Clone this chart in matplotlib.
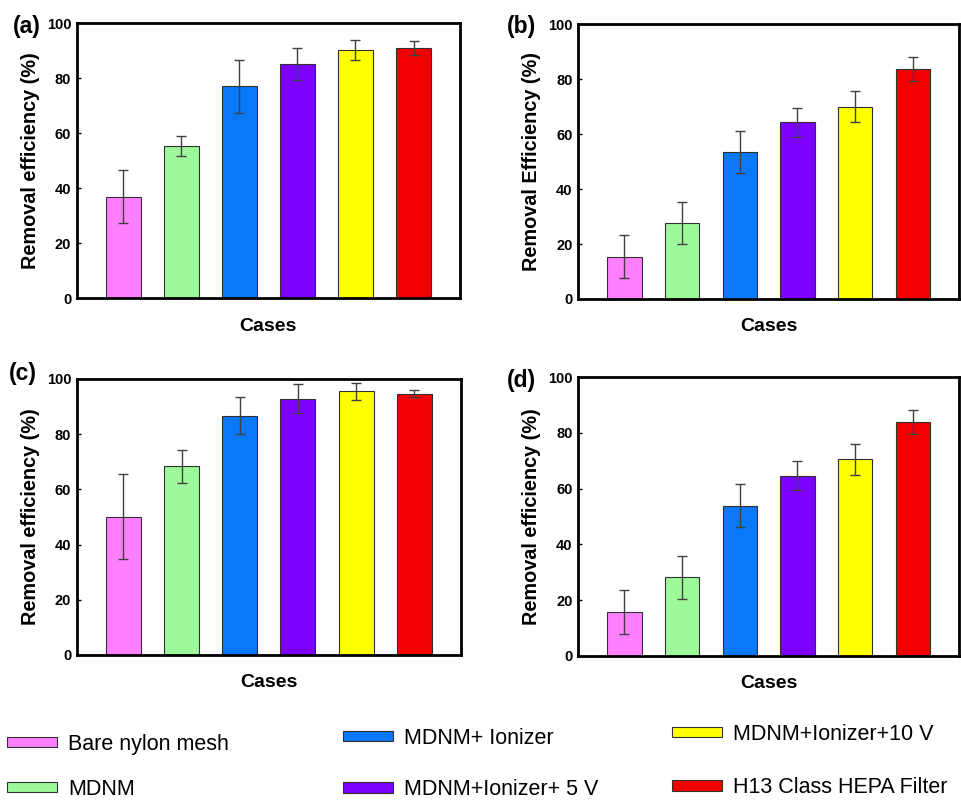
import matplotlib
matplotlib.use("Agg")
import matplotlib.pyplot as plt
import numpy as np

plt.rcParams["font.family"] = ["Liberation Sans", "DejaVu Sans"]

# cases / legend labels
cases = ["Bare nylon mesh", "MDNM", "MDNM+ Ionizer",
         "MDNM+Ionizer+ 5 V", "MDNM+Ionizer+10 V", "H13 Class HEPA Filter"]
colors = ["#FF80FF", "#9EF99A", "#0A78FA", "#7D00FF", "#FFFF00", "#F20000"]

# removal efficiency (%) and error, per panel
eff_a = [37.0, 55.4, 77.1, 85.1, 90.2, 91.1]
err_a = [9.7, 3.6, 9.7, 5.8, 3.7, 2.6]
eff_b = [15.4, 27.8, 53.6, 64.3, 70.0, 83.7]
err_b = [7.9, 7.6, 7.7, 5.3, 5.7, 4.4]
eff_c = [50.1, 68.4, 86.7, 92.9, 95.5, 94.7]
err_c = [15.3, 6.0, 6.8, 5.2, 3.0, 1.3]
eff_d = [15.7, 28.1, 53.9, 64.7, 70.5, 83.8]
err_d = [7.9, 7.7, 7.8, 5.3, 5.6, 4.3]

panel_tags = ["(a)", "(b)", "(c)", "(d)"]
ylabels = ["Removal efficiency (%)", "Removal Efficiency (%)",
           "Removal efficiency (%)", "Removal efficiency (%)"]

W, H = 961, 800
fig = plt.figure(figsize=(W / 100, H / 100), dpi=100)


def px_axes(left, top, right, bottom):
    return fig.add_axes([left / W, 1 - bottom / H, (right - left) / W, (bottom - top) / H])


axes = [
    px_axes(76.7, 23.3, 460, 298.3),
    px_axes(578.3, 24.3, 959, 299),
    px_axes(76.7, 379, 461, 655),
    px_axes(578.3, 377.3, 959, 655.7),
]
tag_pos = [(13, 27), (507, 26), (9, 373), (507, 380)]

x = np.arange(1, len(cases) + 1)
bar_sets = []
for ax, eff, err, ylab, tag, tp in zip(
        axes, [eff_a, eff_b, eff_c, eff_d], [err_a, err_b, err_c, err_d],
        ylabels, panel_tags, tag_pos):
    bars = ax.bar(x, eff, width=0.6, color=colors, edgecolor="#303030",
                  linewidth=0.8, zorder=2)
    ax.errorbar(x, eff, yerr=err, fmt="none", ecolor="#404040",
                elinewidth=1.0, capsize=3.6, capthick=1.0, zorder=3)
    bar_sets.append(bars)
    ax.set_xlim(0.2, 6.8)
    ax.set_ylim(0, 100)
    ax.set_yticks([0, 20, 40, 60, 80, 100])
    ax.set_xticks([])
    for lab in ax.get_yticklabels():
        lab.set_fontweight("bold")
    ax.tick_params(axis="y", direction="in", length=3, width=1,
                   labelsize=10.5, pad=4)
    for sp in ax.spines.values():
        sp.set_linewidth(2)
    ax.set_ylabel(ylab, fontsize=14.3, fontweight="bold", labelpad=5)
    ax.set_xlabel("Cases", fontsize=14, fontweight="bold", labelpad=14)
    fig.text(tp[0] / W, 1 - tp[1] / H, tag, fontsize=16.5, fontweight="bold",
             ha="left", va="center")

# legend: three columns of two entries
bars = bar_sets[0]
leg_cols = [((0, 1), 7, 734, 1.1), ((2, 3), 343, 728, 1.4), ((4, 5), 672, 724, 1.5)]
for idx, lx, ly, sp in leg_cols:
    fig.legend([bars[i] for i in idx], [cases[i] for i in idx],
               loc="upper left", bbox_to_anchor=(lx / W, 1 - ly / H),
               frameon=False, fontsize=15.5, handlelength=2.3,
               handleheight=0.35, handletextpad=0.55, labelspacing=sp,
               borderpad=0, borderaxespad=0)

fig.savefig("out.png", dpi=100)
